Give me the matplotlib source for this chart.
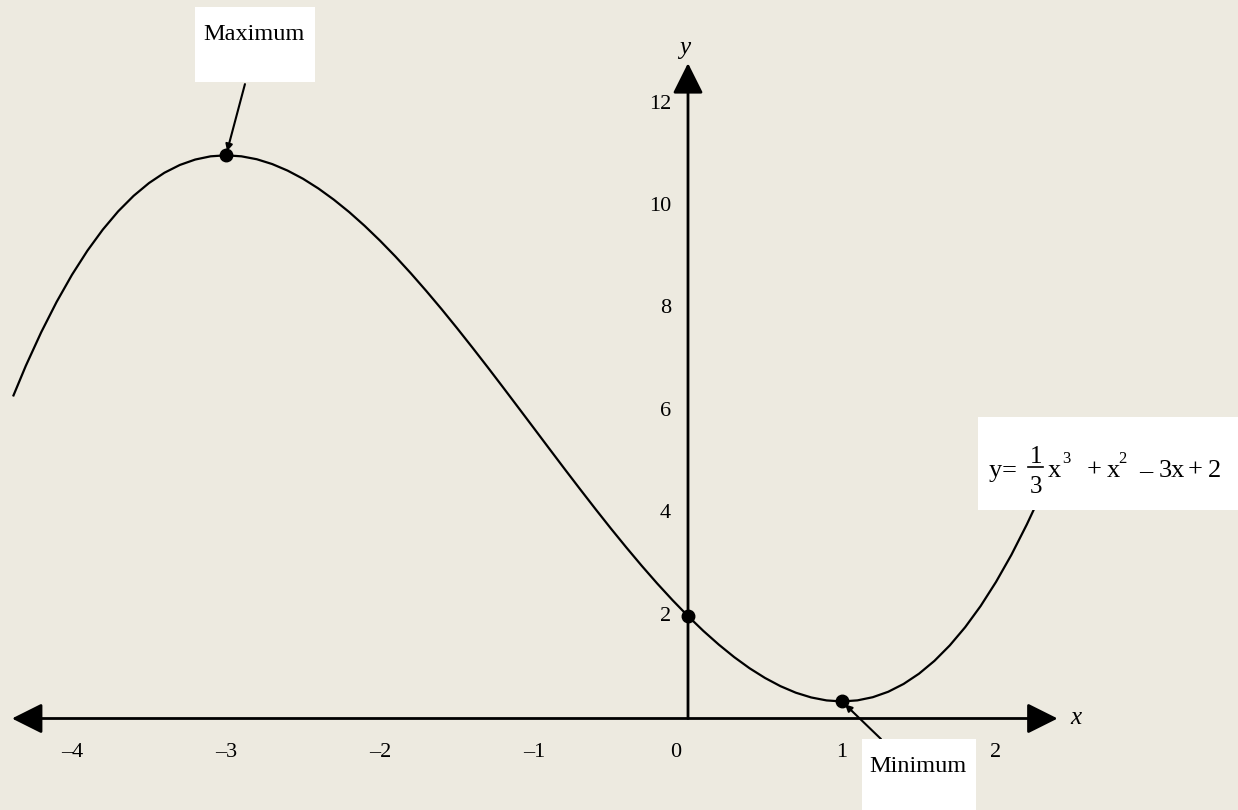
import matplotlib
matplotlib.use("Agg")
import matplotlib.pyplot as plt
from matplotlib.patches import Rectangle
from matplotlib.lines import Line2D

plt.rcParams['font.family'] = ['Liberation Serif', 'DejaVu Serif']

# curve points
curve_x = [-4.38, -4.3, -4.2, -4.1, -4.0, -3.9, -3.8, -3.7, -3.6, -3.5, -3.4, -3.3,
           -3.2, -3.1, -3.0, -2.9, -2.8, -2.7, -2.6, -2.5, -2.4, -2.3, -2.2, -2.1,
           -2.0, -1.9, -1.8, -1.7, -1.6, -1.5, -1.4, -1.3, -1.2, -1.1, -1.0, -0.9,
           -0.8, -0.7, -0.6, -0.5, -0.4, -0.3, -0.2, -0.1, 0.0, 0.1, 0.2, 0.3,
           0.4, 0.5, 0.6, 0.7, 0.8, 0.9, 1.0, 1.1, 1.2, 1.3, 1.4, 1.5,
           1.6, 1.7, 1.8, 1.9, 2.0, 2.1, 2.2, 2.25]
curve_y = [6.31, 6.888, 7.544, 8.136, 8.667, 9.137, 9.549, 9.906, 10.208, 10.458, 10.659, 10.811,
           10.917, 10.980, 11.0, 10.980, 10.923, 10.829, 10.701, 10.542, 10.352, 10.134, 9.891, 9.623,
           9.333, 9.024, 8.696, 8.352, 7.995, 7.625, 7.245, 6.858, 6.464, 6.066, 5.667, 5.267,
           4.869, 4.476, 4.088, 3.708, 3.339, 2.981, 2.637, 2.310, 2.0, 1.710, 1.443, 1.199,
           0.981, 0.792, 0.632, 0.504, 0.411, 0.353, 0.333, 0.354, 0.416, 0.522, 0.675, 0.875,
           1.125, 1.428, 1.784, 2.196, 2.667, 3.197, 3.789, 4.109]

# marked points: maximum, y-intercept, minimum
point_x = [-3, 0, 1]
point_y = [11, 2, 0.333]

xtick_vals = [-4, -3, -2, -1, 0, 1, 2]
xtick_labels = ['\u20134', '\u20133', '\u20132', '\u20131', '0', '1', '2']
ytick_vals = [2, 4, 6, 8, 10, 12]
ytick_labels = ['2', '4', '6', '8', '10', '12']

W, H = 1238, 810
bg = '#edeae0'

fig = plt.figure(figsize=(W / 100, H / 100), dpi=100, facecolor=bg)
ax = fig.add_axes([0, 0, 1, 1])
ax.set_facecolor(bg)
ax.set_xlim(-688 / 154, (W - 688) / 154)
ax.set_ylim(-(H - 718.5) / 51.2, 718.5 / 51.2)
ax.axis('off')

# axes with arrows
ax.annotate('', xy=(2.40, 0), xytext=(-4.39, 0),
            arrowprops=dict(arrowstyle='<|-|>,head_length=1.1,head_width=0.55',
                            lw=2, color='black', shrinkA=0, shrinkB=0, mutation_scale=17))
ax.annotate('', xy=(0, 12.8), xytext=(0, 0),
            arrowprops=dict(arrowstyle='-|>,head_length=1.1,head_width=0.55',
                            lw=2, color='black', shrinkA=0, shrinkB=0, mutation_scale=17))
ax.text(2.48, 0, 'x', fontsize=18, style='italic', ha='left', va='center')
ax.text(-0.02, 13.1, 'y', fontsize=18, style='italic', ha='center', va='center')

for v, lab in zip(xtick_vals, xtick_labels):
    off = -0.08 if v == 0 else 0
    ax.text(v + off, -0.67, lab, fontsize=16, ha='center', va='center')
for v, lab in zip(ytick_vals, ytick_labels):
    ax.text(-0.11, v, lab, fontsize=16, ha='right', va='center')

ax.plot(curve_x, curve_y, color='black', lw=1.6, solid_joinstyle='round')
ax.plot(point_x, point_y, 'o', color='black', markersize=9)

# annotation arrows
ax.annotate('', xy=(point_x[0], point_y[0]), xytext=(-2.877, 12.39),
            arrowprops=dict(arrowstyle='-|>', lw=1.5, color='black',
                            shrinkA=0, shrinkB=3, mutation_scale=10))
ax.annotate('', xy=(point_x[2], point_y[2]), xytext=(1.253, -0.40),
            arrowprops=dict(arrowstyle='-|>', lw=1.5, color='black',
                            shrinkA=0, shrinkB=3, mutation_scale=10))


def box(x0, y0, x1, y1):
    fig.add_artist(Rectangle((x0 / W, 1 - y1 / H), (x1 - x0) / W, (y1 - y0) / H,
                             transform=fig.transFigure, facecolor='white',
                             edgecolor='none', zorder=3))


def txt(x, y, s, size, ha='left', va='baseline'):
    fig.text(x / W, 1 - y / H, s, fontsize=size, ha=ha, va=va, zorder=4)


box(195, 7, 315, 82)
txt(254, 34, 'Maximum', 17.5, ha='center', va='center')

box(862, 739, 976, 812)
txt(918, 767, 'Minimum', 17.5, ha='center', va='center')

# equation label, built piece by piece
box(978, 417, 1240, 510)
txt(989, 477, 'y', 19)
txt(1002, 477, '=', 19)
txt(1036, 463, '1', 18, ha='center')
txt(1036, 493, '3', 18, ha='center')
fig.add_artist(Line2D([1028 / W, 1043 / W], [1 - 467 / H, 1 - 467 / H],
                      transform=fig.transFigure, color='black', lw=1.2, zorder=4))
txt(1048, 477, 'x', 19)
txt(1062, 463, '3', 12)
txt(1087, 477, '+', 19)
txt(1107, 477, 'x', 19)
txt(1118, 463, '2', 12)
txt(1139, 477, '\u2013', 19)
txt(1159, 477, '3x', 19)
txt(1188, 477, '+', 19)
txt(1208, 477, '2', 19)

fig.savefig('out.png', dpi=100, facecolor=bg)
